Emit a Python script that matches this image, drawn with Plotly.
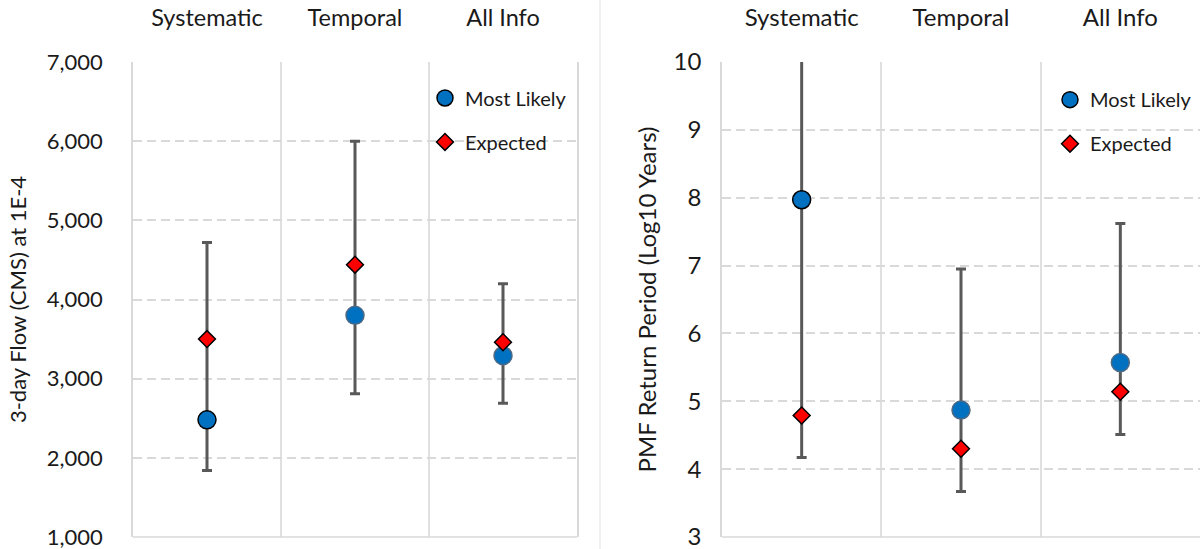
import plotly.graph_objects as go

categories = ["Systematic", "Temporal", "All Info"]

# Left panel: 3-day flow (CMS) at 1E-4
flow_most_likely = [2480, 3800, 3290]
flow_expected = [3500, 4440, 3460]
flow_low = [1840, 2810, 2690]
flow_high = [4720, 6000, 4200]

# Right panel: PMF return period (log10 years)
pmf_most_likely = [7.97, 4.87, 5.57]
pmf_expected = [4.79, 4.30, 5.14]
pmf_low = [4.17, 3.67, 4.51]
pmf_high = [11.0, 6.95, 7.62]

FONT = "Lato"
TXT = "#1a1a1a"
GRID = "#d9d9d9"
VGRID = "#e0e0e0"
BAR = "#595959"
BLUE = "#0070C0"
RED = "#FF0000"
ml_outline = ["#000000", "#4d6a85", "#4d6a85"]

fig = go.Figure()


def add_panel(xa, ya, legend, lows, highs, ml, ex):
    fig.add_trace(go.Scatter(
        x=categories, y=lows, xaxis=xa, yaxis=ya, mode="markers",
        marker=dict(size=1, color="rgba(0,0,0,0)"),
        error_y=dict(type="data", symmetric=False,
                     array=[h - l for h, l in zip(highs, lows)],
                     arrayminus=[0] * len(lows),
                     color=BAR, thickness=3, width=5),
        showlegend=False, hoverinfo="skip"))
    fig.add_trace(go.Scatter(
        x=categories, y=ml, xaxis=xa, yaxis=ya, mode="markers",
        name="Most Likely", legend=legend, legendgroup=legend + "ml",
        marker=dict(symbol="circle", size=18, color=BLUE,
                    line=dict(color=ml_outline, width=1.5))))
    fig.add_trace(go.Scatter(
        x=categories, y=ex, xaxis=xa, yaxis=ya, mode="markers",
        name="Expected", legend=legend, legendgroup=legend + "ex",
        marker=dict(symbol="diamond", size=13, color=RED,
                    line=dict(color="#000000", width=1.5))))


add_panel("x", "y", "legend", flow_low, flow_high, flow_most_likely, flow_expected)
add_panel("x2", "y2", "legend2", pmf_low, pmf_high, pmf_most_likely, pmf_expected)

W, H = 1200, 549
xcommon = dict(type="category", side="top", tickson="boundaries",
               showgrid=True, gridcolor=VGRID, gridwidth=1.5,
               ticks="", ticklabelstandoff=30,
               showline=False, zeroline=False, fixedrange=True)
ycommon = dict(showgrid=True, gridcolor=GRID, gridwidth=2, griddash="9px,5px",
               showline=True, linecolor=GRID, linewidth=1.5,
               ticks="", zeroline=False, ticklabeloverflow="allow",
               automargin=True)

fig.update_layout(
    width=W, height=H,
    margin=dict(l=0, r=0, t=62, b=12),
    paper_bgcolor="white", plot_bgcolor="white",
    font=dict(family=FONT, color=TXT),
    xaxis=dict(xcommon, domain=[133 / W, 577 / W], anchor="y",
               range=[-0.5, 2.5],
               tickfont=dict(family=FONT, size=23.5, color=TXT)),
    yaxis=dict(ycommon, domain=[0, 1], anchor="x", range=[1000, 7000],
               dtick=1000, tickformat=",", mirror=True, ticklabelstandoff=24,
               tickfont=dict(family=FONT, size=22, color=TXT),
               title=dict(text="3-day Flow (CMS) at 1E-4", standoff=14,
                          font=dict(family=FONT, size=22, color=TXT))),
    xaxis2=dict(xcommon, domain=[722 / W, 1.0], anchor="y2",
                range=[-0.5, 2.5],
                tickfont=dict(family=FONT, size=24, color=TXT)),
    yaxis2=dict(ycommon, domain=[0, 1], anchor="x2", range=[3, 10], dtick=1,
                ticklabelstandoff=14,
                tickfont=dict(family=FONT, size=24, color=TXT),
                title=dict(text="PMF Return Period (Log10 Years)", standoff=10,
                           font=dict(family=FONT, size=24, color=TXT))),
    legend=dict(x=425 / W, y=1 - 19 / H, xanchor="left", yanchor="top",
                bgcolor="rgba(0,0,0,0)", traceorder="grouped",
                tracegroupgap=15, font=dict(family=FONT, size=20, color=TXT)),
    legend2=dict(x=1050 / W, y=1 - 21 / H, xanchor="left", yanchor="top",
                 bgcolor="rgba(0,0,0,0)", traceorder="grouped",
                 tracegroupgap=15, font=dict(family=FONT, size=20, color=TXT)),
    showlegend=True,
)

# bottom border lines of both panels and the faint divider between the two charts
fig.add_shape(type="line", xref="x domain", yref="y domain", x0=0, x1=1, y0=0, y1=0,
              line=dict(color=GRID, width=1.5))
fig.add_shape(type="line", xref="x2 domain", yref="y2 domain", x0=0, x1=1, y0=0, y1=0,
              line=dict(color=GRID, width=1.5))
fig.add_shape(type="line", xref="paper", yref="paper", x0=0.5, x1=0.5, y0=0, y1=1,
              line=dict(color="#ececec", width=1.5))
fig.update_shapes(selector=-1, y0=-12 / (H - 74), y1=1 + 62 / (H - 74))

fig.write_html("out.html")
